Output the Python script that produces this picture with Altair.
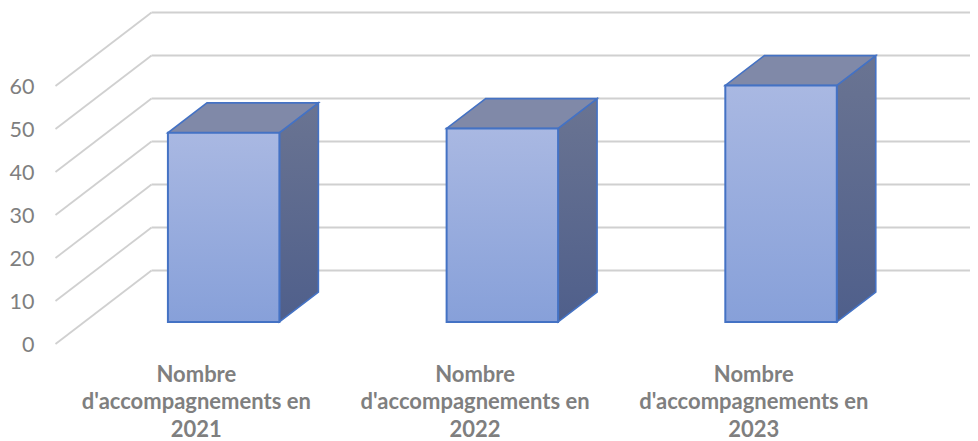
import json
import altair as alt
import pandas as pd

categories = ["Nombre|d'accompagnements en|2021", "Nombre|d'accompagnements en|2022", "Nombre|d'accompagnements en|2023"]
values = [44, 45, 55]
ticks = [0, 10, 20, 30, 40, 50, 60]

# geometry of the oblique projection, in data units
DEPTH_X, DEPTH_Y = 0.3445, 17.09     # full floor depth
BAR_T0, BAR_DT = 0.30, 0.406         # where the bar sits along the depth
BAR_W = 0.40
X_DOM = [-0.0628, 3.2813]
Y_DOM = [0, 78.14]
xs = alt.Scale(domain=X_DOM, nice=False, zero=False)
ys = alt.Scale(domain=Y_DOM, nice=False, zero=False)

GRID = "#d0d0d0"
TXT = "#7f7f7f"
EDGE = "#4472c4"

grid_df = pd.DataFrame({
    "front_x": [0.0] * len(ticks),
    "front_y": ticks,
    "back_x": [DEPTH_X] * len(ticks),
    "back_y": [t + DEPTH_Y for t in ticks],
    "end_x": [X_DOM[1]] * len(ticks),
})

rows_front, rows_side, rows_top = [], [], []
for i, (c, v) in enumerate(zip(categories, values)):
    base_x = i + 0.5 - BAR_W / 2 + BAR_T0 * DEPTH_X
    right = base_x + BAR_W
    base_y = BAR_T0 * DEPTH_Y
    dx, dy = BAR_DT * DEPTH_X, BAR_DT * DEPTH_Y
    rows_front.append(dict(cat=c, x=base_x, x2=right, y=base_y, y2=base_y + v))
    rows_side.append(dict(cat=c, x=right, y=base_y, y2=base_y + v))
    rows_side.append(dict(cat=c, x=right + dx, y=base_y + dy, y2=base_y + v + dy))
    rows_top.append(dict(cat=c, y=base_y + v, x=base_x, x2=right))
    rows_top.append(dict(cat=c, y=base_y + v + dy, x=base_x + dx, x2=right + dx))
front_df, side_df, top_df = map(pd.DataFrame, (rows_front, rows_side, rows_top))

X = lambda f, **k: alt.X(f, type="quantitative", scale=xs, title=None, **k)
Y = lambda f, **k: alt.Y(f, type="quantitative", scale=ys, title=None, **k)
X2 = lambda f: alt.X2(f)
Y2 = lambda f: alt.Y2(f)

label_expr = "split(" + json.dumps(categories) + "[floor(datum.value)], '|')"
x_axis = alt.Axis(values=[0.5, 1.5, 2.5], labelExpr=label_expr, domain=False, ticks=False, grid=False,
                  labelFont="Lato", labelFontSize=22, labelFontWeight="bold", labelColor=TXT,
                  labelPadding=20, labelLineHeight=27.5, labelOverlap=False, labelFlush=False, labelBound=False,
                  labelAngle=0, labelBaseline="top", labelAlign="center", labelLimit=0, labelOffset=1)
y_axis = alt.Axis(values=ticks, domain=False, ticks=False, grid=False, labelFont="Lato", labelFontSize=21.5,
                  labelColor=TXT, labelPadding=4, labelOverlap=False, labelFlush=False, labelBound=False, labelOffset=1)

back = alt.Chart(grid_df).mark_rule(color=GRID, strokeWidth=1.8).encode(
    x=X("back_x:Q"), x2=X2("end_x"), y=Y("back_y:Q"))
diag = alt.Chart(grid_df).mark_rule(color=GRID, strokeWidth=1.8).encode(
    x=X("front_x:Q", axis=x_axis), x2=X2("back_x"), y=Y("front_y:Q", axis=y_axis), y2=Y2("back_y"))

side_fill = alt.Gradient(gradient="linear", x1=0, y1=0, x2=0, y2=1,
                         stops=[alt.GradientStop(offset=0, color="#6a7492"),
                                alt.GradientStop(offset=1, color="#4f5f8b")])
front_fill = alt.Gradient(gradient="linear", x1=0, y1=0, x2=0, y2=1,
                          stops=[alt.GradientStop(offset=0, color="#a9b8e2"),
                                 alt.GradientStop(offset=1, color="#87a0d9")])

side = alt.Chart(side_df).mark_area(color=side_fill, stroke=EDGE, strokeWidth=1.6, strokeJoin="miter").encode(
    x=X("x:Q"), y=Y("y:Q"), y2=Y2("y2"), detail="cat:N")
top = alt.Chart(top_df).mark_area(orient="horizontal", color="#8089a8", stroke=EDGE, strokeWidth=1.6, strokeJoin="miter").encode(
    y=Y("y:Q"), x=X("x:Q"), x2=X2("x2"), detail="cat:N")
front = alt.Chart(front_df).mark_rect(color=front_fill, stroke=EDGE, strokeWidth=2).encode(
    x=X("x:Q"), x2=X2("x2"), y=Y("y:Q"), y2=Y2("y2"))

chart = alt.layer(back, diag, side, top, front).properties(
    width=932, height=336,
    padding={"left": 30, "top": 0, "right": 0, "bottom": 97},
    autosize=alt.AutoSizeParams(type="none"),
    background="white",
).configure_view(stroke=None)

chart.save("out.html", embed_options={"renderer": "svg", "actions": False})
